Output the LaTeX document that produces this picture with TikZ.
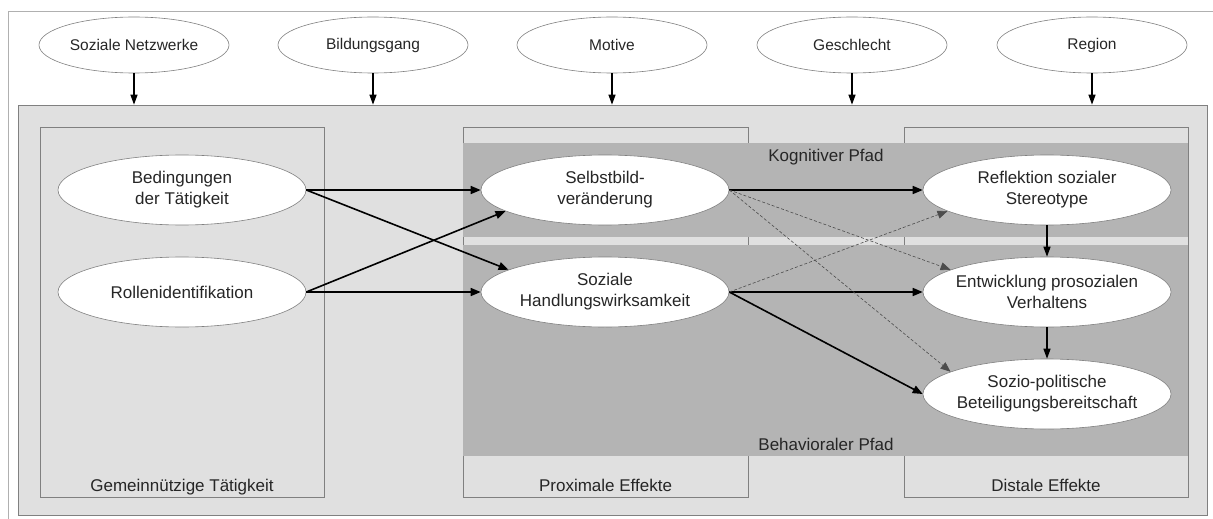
\documentclass[tikz,border=0pt]{standalone}
\usepackage{fontspec}
\setmainfont{Liberation Sans}
\usepackage{tikz}
\usetikzlibrary{positioning,shapes.geometric,arrows.meta}

\definecolor{boxgray}{HTML}{E0E0E0}
\definecolor{bandgray}{HTML}{B4B4B4}
\definecolor{linegray}{HTML}{808080}
\definecolor{framegray}{HTML}{B0B0B0}

\begin{document}
\begin{tikzpicture}[x=1pt, y=-1pt,
					factor/.style={
						ellipse, draw=linegray, fill=white, line width=0.6pt,
						inner sep=0pt, minimum width=190pt, minimum height=56pt,
						font=\fontsize{15.5}{18}\selectfont, text=black!85
					},
					var/.style={
						ellipse, draw=linegray, fill=white, line width=0.6pt,
						inner xsep=-10pt, inner ysep=0pt, minimum width=248pt, minimum height=70pt,
						align=center, font=\fontsize{17}{21}\selectfont, text=black!85
					},
					effbox/.style={
						draw=linegray, fill=boxgray, line width=0.7pt, inner sep=0pt
					},
					band/.style={
						fill=bandgray, inner sep=0pt
					},
					box_label/.style={
						font=\fontsize{17}{21}\selectfont, text=black!85, anchor=base
					},
					main/.style={-{Triangle[length=10pt,width=8pt]}, line width=1.6pt},
					weak/.style={-{Triangle[length=10pt,width=8pt]}, line width=0.6pt, draw=black!70, dash pattern=on 3pt off 2pt},
					drop/.style={-{Triangle[length=10pt,width=7pt]}, line width=1.3pt}
					]
					
					\useasboundingbox (0,0) rectangle (1213,519);
					\draw[framegray, line width=0.8pt] (8,519) |- (1213,11);
					
					% --- FRAME AND BOXES ---
					\node[effbox, minimum width=1189pt, minimum height=410pt] (frame) at (612.5,310) {};
					\node[effbox, minimum width=284pt, minimum height=370pt] (gem) at (182,312) {};
					\node[effbox, minimum width=285pt, minimum height=370pt] (prox) at (605.5,312) {};
					\node[effbox, minimum width=284pt, minimum height=370pt] (dist) at (1046,312) {};
					
					% --- PATHS ---
					\node[band, minimum width=725pt, minimum height=94pt] (kog) at (825.5,190) {};
					\node[band, minimum width=725pt, minimum height=211pt] (beh) at (825.5,350.5) {};
					
					\node[box_label] (kog_lbl) at (826,161) {Kognitiver Pfad};
					\node[box_label] (beh_lbl) at (826,450) {Behavioraler Pfad};
					\node[box_label] (gem_lbl) at (182,491) {Gemeinnützige Tätigkeit};
					\node[box_label] (prox_lbl) at (605.5,491) {Proximale Effekte};
					\node[box_label] (dist_lbl) at (1046,491) {Distale Effekte};
					
					% --- CONTEXT FACTORS ---
					\node[factor] (netz) at (134,45) {Soziale Netzwerke};
					\node[factor] (bild) at (373,45) {Bildungsgang};
					\node[factor] (mot) at (612,45) {Motive};
					\node[factor] (geschl) at (852,45) {Geschlecht};
					\node[factor] (reg) at (1092,45) {Region};
					
					\draw[drop] (netz.south) -- (netz.south |- frame.north);
					\draw[drop] (bild.south) -- (bild.south |- frame.north);
					\draw[drop] (mot.south) -- (mot.south |- frame.north);
					\draw[drop] (geschl.south) -- (geschl.south |- frame.north);
					\draw[drop] (reg.south) -- (reg.south |- frame.north);
					
					% --- VARIABLES ---
					\node[var] (bed) at (182,190) {Bedingungen\\der Tätigkeit};
					\node[var] (rol) at (182,292) {Rollenidentifikation};
					\node[var] (selbst) at (605,190) {Selbstbild-\\veränderung};
					\node[var] (soz) at (605,292) {Soziale\\Handlungswirksamkeit};
					\node[var] (refl) at (1047,190) {Reflektion sozialer\\Stereotype};
					\node[var] (entw) at (1047,292) {Entwicklung prosozialen\\Verhaltens};
					\node[var] (sozpol) at (1047,394) {Sozio-politische\\Beteiligungsbereitschaft};
					
					% --- EFFECTS ---
					\draw[main] (bed.east) -- (selbst.west);
					\draw[main] (bed.east) -- (soz.167);
					\draw[main] (rol.east) -- (selbst.192);
					\draw[main] (rol.east) -- (soz.west);
					
					\draw[main] (selbst.east) -- (refl.west);
					\draw[main] (soz.east) -- (entw.west);
					\draw[main] (soz.east) -- (sozpol.west);
					\draw[weak] (selbst.east) -- (entw.167);
					\draw[weak] (selbst.east) -- (sozpol.167);
					\draw[weak] (soz.east) -- (refl.192);
					
					\draw[drop] (refl.south) -- (entw.north);
					\draw[drop] (entw.south) -- (sozpol.north);
					
				\end{tikzpicture}
\end{document}
